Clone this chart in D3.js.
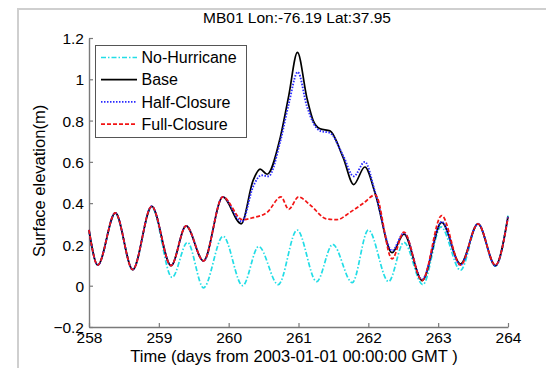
<!DOCTYPE html>
<html>
<head>
<meta charset="utf-8">
<script src="https://cdn.jsdelivr.net/npm/d3@7"></script>
<style>
  body { margin: 0; background: #fff; }
  text { font-family: 'Liberation Sans', Arial, sans-serif; fill: #000; }
</style>
</head>
<body>
<div class="container"></div>
<script>
const w = 546;
const h = 368;
let svg = null;
let x = null;
let y = null;

const titleText = 'MB01 Lon:-76.19 Lat:37.95';
const xTicks = [258, 259, 260, 261, 262, 263, 264];
const yTicks = [-0.2, 0, 0.2, 0.4, 0.6, 0.8, 1, 1.2];

// values: [day, elevation m]
const common = [
  [258, 0.27], [258.125, 0.1], [258.377, 0.353], [258.626, 0.078],
  [258.898, 0.385], [259.175, 0.097], [259.39, 0.29], [259.64, 0.12],
  [259.915, 0.43],
];

const noHurricane = [
  [258, 0.27], [258.125, 0.1], [258.377, 0.35], [258.626, 0.078],
  [258.898, 0.38], [259.19, 0.04], [259.41, 0.21], [259.64, -0.01],
  [259.92, 0.24], [260.2, 0.0], [260.43, 0.19], [260.71, 0.005],
  [260.98, 0.27], [261.26, 0.02], [261.49, 0.2], [261.77, 0.015],
  [262.0, 0.27], [262.29, 0.02], [262.51, 0.21], [262.78, 0.005],
  [263.04, 0.285], [263.32, 0.075], [263.57, 0.3], [263.82, 0.095],
  [264, 0.34],
];

const base = common.concat([
  [260.18, 0.3], [260.35, 0.51], [260.45, 0.565], [260.55, 0.54],
  [260.74, 0.72], [260.86, 0.92], [260.985, 1.13], [261.12, 0.91],
  [261.21, 0.8], [261.31, 0.76], [261.45, 0.75], [261.64, 0.62],
  [261.79, 0.49], [261.95, 0.575], [262.1, 0.445], [262.34, 0.16],
  [262.51, 0.25], [262.77, 0.025], [263.05, 0.307], [263.32, 0.105],
  [263.57, 0.3], [263.82, 0.097], [264, 0.335],
]);

const halfClosure = common.concat([
  [260.19, 0.31], [260.35, 0.48], [260.47, 0.535], [260.57, 0.53],
  [260.74, 0.7], [260.86, 0.88], [260.99, 1.035], [261.12, 0.87],
  [261.21, 0.79], [261.31, 0.75], [261.45, 0.74], [261.64, 0.63],
  [261.79, 0.53], [261.95, 0.6], [262.1, 0.45], [262.34, 0.17],
  [262.51, 0.255], [262.77, 0.03], [263.05, 0.31], [263.32, 0.1],
  [263.57, 0.3], [263.82, 0.097], [264, 0.335],
]);

const fullClosure = common.concat([
  [260.2, 0.32], [260.35, 0.33], [260.55, 0.355], [260.75, 0.43],
  [260.86, 0.37], [261.0, 0.43], [261.17, 0.39], [261.4, 0.324],
  [261.55, 0.32], [261.74, 0.356], [261.93, 0.4], [262.1, 0.44],
  [262.34, 0.13], [262.51, 0.26], [262.77, 0.025], [263.05, 0.34],
  [263.32, 0.1], [263.57, 0.3], [263.82, 0.1], [264, 0.33],
]);

const seriesNames = ['No-Hurricane', 'Base', 'Half-Closure', 'Full-Closure'];
const seriesData = [noHurricane, base, halfClosure, fullClosure];
const seriesColors = ['#22dde6', '#000000', '#2a2aff', '#f21414'];
const seriesDash = ['5,2,1.5,2', null, '1.5,1.5', '4,2'];
const seriesWidth = [1.7, 1.7, 1.9, 1.7];

window.onload = () => {
  setSvg();
  drawFrame();
  drawAxes();
  drawLines();
  addLabels();
  addLegend();
};

function setSvg() {
  svg = d3.select('.container').append('svg')
    .attr('width', w)
    .attr('height', h);
  x = d3.scaleLinear().domain([258, 264]).range([89, 508]);
  y = d3.scaleLinear().domain([-0.2, 1.2]).range([327, 38]);
}

function drawFrame() {
  svg.append('path')
    .attr('d', `M18,${h + 2}V9H${w + 2}`)
    .attr('fill', 'none')
    .attr('stroke', '#cfcfcf')
    .attr('stroke-width', 2);
}

function drawAxes() {
  const xAxis = d3.axisBottom(x).tickValues(xTicks).tickSize(-4).tickSizeOuter(0)
    .tickPadding(4.5).tickFormat(d3.format('d'));
  const yAxis = d3.axisLeft(y).tickValues(yTicks).tickSize(-4).tickSizeOuter(0)
    .tickPadding(5).tickFormat((d) => (d === 0 ? '0' : d3.format('')(+d.toFixed(1))));

  const gx = svg.append('g').attr('transform', `translate(0,${y(-0.2)})`).call(xAxis);
  const gy = svg.append('g').attr('transform', `translate(${x(258)},0)`).call(yAxis);

  [gx, gy].forEach((g) => {
    g.select('.domain').attr('stroke', '#7a7a7a').attr('stroke-width', 1.4);
    g.selectAll('.tick line').attr('stroke', '#7a7a7a').attr('stroke-width', 1.2);
    g.selectAll('.tick text')
      .attr('font-size', '15.5px')
      .attr('font-family', "'Liberation Sans', Arial, sans-serif")
      .attr('fill', '#111');
  });
  gx.selectAll('.tick text').attr('dy', '0.71em');
  gy.selectAll('.tick text').attr('dy', '0.36em');
}

function drawLines() {
  const line = d3.line()
    .x((d) => x(d[0]))
    .y((d) => y(d[1]))
    .curve(d3.curveMonotoneX);

  svg.selectAll('path.series').data(seriesData).enter().append('path')
    .attr('class', 'series')
    .attr('d', line)
    .attr('fill', 'none')
    .attr('stroke', (d, i) => seriesColors[i])
    .attr('stroke-width', (d, i) => seriesWidth[i])
    .attr('stroke-dasharray', (d, i) => seriesDash[i])
    .attr('stroke-linejoin', 'round');
}

function addLabels() {
  svg.append('text')
    .text(titleText)
    .attr('x', 297)
    .attr('y', 23)
    .attr('text-anchor', 'middle')
    .attr('font-size', '15.5px');

  svg.append('text')
    .text('Time (days from 2003-01-01 00:00:00 GMT )')
    .attr('x', 294)
    .attr('y', 362)
    .attr('text-anchor', 'middle')
    .attr('font-size', '16.5px');

  svg.append('text')
    .text('Surface elevation(m)')
    .attr('transform', 'translate(45,181) rotate(-90)')
    .attr('text-anchor', 'middle')
    .attr('font-size', '16.5px');
}

function addLegend() {
  const g = svg.append('g');
  g.append('rect')
    .attr('x', 95.5)
    .attr('y', 45.5)
    .attr('width', 151)
    .attr('height', 92)
    .attr('fill', '#fff')
    .attr('stroke', '#555')
    .attr('stroke-width', 1);

  const rows = g.selectAll('g.item').data(seriesNames).enter().append('g')
    .attr('class', 'item')
    .attr('transform', (d, i) => `translate(0,${57.5 + i * 22.2})`);

  rows.append('line')
    .attr('x1', 101)
    .attr('x2', 137)
    .attr('stroke', (d, i) => seriesColors[i])
    .attr('stroke-width', (d, i) => seriesWidth[i])
    .attr('stroke-dasharray', (d, i) => seriesDash[i]);

  rows.append('text')
    .text((d) => d)
    .attr('x', 141.5)
    .attr('dy', '0.36em')
    .attr('font-size', '16px');
}
</script>
</body>
</html>
